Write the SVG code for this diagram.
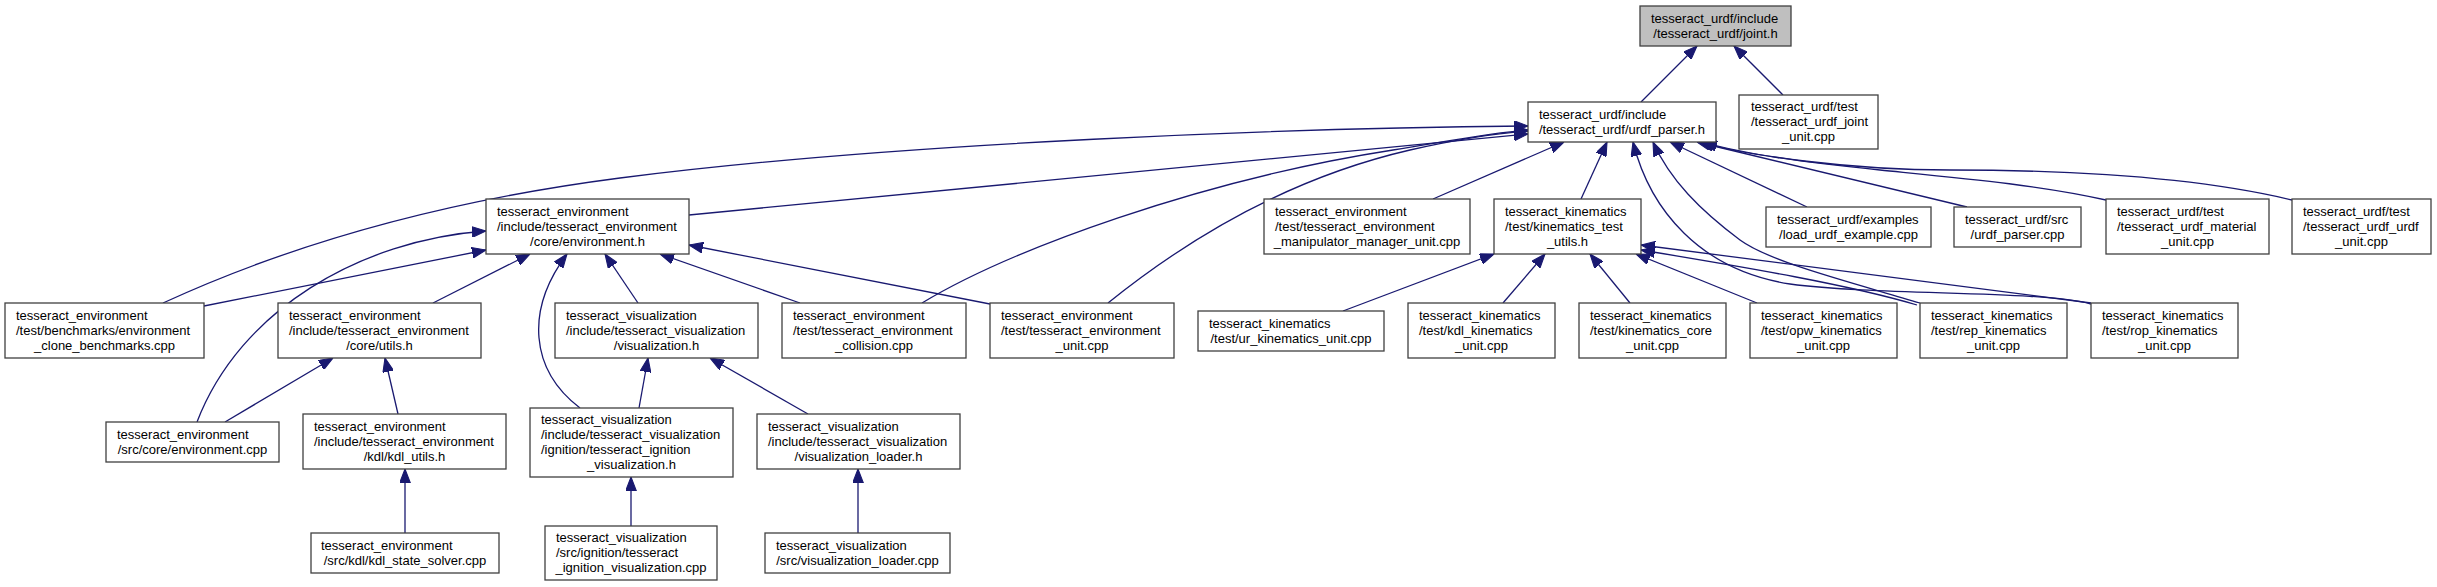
<svg xmlns="http://www.w3.org/2000/svg" width="2437" height="587" viewBox="0 0 2437 587">
<style>
.node rect{fill:#ffffff;stroke:#404040;stroke-width:1.3}
#joint_h rect{fill:#bfbfbf}
text{font-family:"Liberation Sans",Arial,Helvetica,sans-serif;font-size:13px;fill:#000000}
.c{text-anchor:middle}
.edge{fill:none;stroke:#191970;stroke-width:1.3;marker-end:url(#arr)}
</style>
<defs>
<marker id="arr" markerUnits="userSpaceOnUse" markerWidth="14" markerHeight="11" viewBox="0 0 13 10" refX="13" refY="5" orient="auto">
<path d="M0,0 L13,5 L0,10 z" fill="#191970" stroke="#191970" stroke-width="1"/>
</marker>
</defs>
<rect width="2437" height="587" fill="#ffffff"/>
<g id="edges">
<path class="edge" d="M1641,102 L1697,46"/>
<path class="edge" d="M1783,95 L1734,46"/>
<path class="edge" d="M689,215 L1528,134"/>
<path class="edge" d="M163,303 C300,240 450,200 620,178 C900,142 1300,128 1528,126"/>
<path class="edge" d="M922,303 C1010,250 1200,180 1393,150 C1450,141 1490,133 1528,130"/>
<path class="edge" d="M1108,303 C1180,245 1280,180 1410,150 C1450,141 1490,134 1528,131"/>
<path class="edge" d="M1433,199 L1564,142"/>
<path class="edge" d="M1581,199 L1607,142"/>
<path class="edge" d="M2091,304 C2040,290 1880,296 1790,284 C1700,270 1650,210 1633,142"/>
<path class="edge" d="M1920,303 C1850,282 1770,262 1740,240 C1700,210 1670,180 1653,142"/>
<path class="edge" d="M1807,207 L1670,142"/>
<path class="edge" d="M1967,207 L1697,142"/>
<path class="edge" d="M2106,200 C2040,185 1960,178 1880,170 C1800,162 1740,154 1700,142"/>
<path class="edge" d="M2292,200 C2200,178 2080,170 1950,170 C1850,170 1750,156 1703,142"/>
<path class="edge" d="M1343,311 L1494,254"/>
<path class="edge" d="M1503,303 L1545,254"/>
<path class="edge" d="M1630,303 L1590,254"/>
<path class="edge" d="M1757,303 L1636,254"/>
<path class="edge" d="M1917,305 C1850,285 1750,268 1641,250"/>
<path class="edge" d="M2091,303 L1641,245"/>
<path class="edge" d="M204,306 L486,250"/>
<path class="edge" d="M197,422 C240,310 360,240 486,231"/>
<path class="edge" d="M433,303 L530,254"/>
<path class="edge" d="M580,408 C530,370 525,310 567,254"/>
<path class="edge" d="M638,303 L605,254"/>
<path class="edge" d="M800,303 L660,254"/>
<path class="edge" d="M990,304 L689,245"/>
<path class="edge" d="M225,422 L333,358"/>
<path class="edge" d="M398,414 L385,358"/>
<path class="edge" d="M639,408 L648,358"/>
<path class="edge" d="M808,414 L710,358"/>
<path class="edge" d="M631,526 L631,477"/>
<path class="edge" d="M858,533 L858,469"/>
<path class="edge" d="M405,533 L405,469"/>
</g>
<g id="joint_h" class="node"><rect x="1640" y="6" width="151" height="40"/><text x="1651" y="22.5">tesseract_urdf/include</text><text class="c" x="1715.5" y="37.5">/tesseract_urdf/joint.h</text></g>
<g id="urdf_parser_h" class="node"><rect x="1528" y="102" width="188" height="40"/><text x="1539" y="118.5">tesseract_urdf/include</text><text class="c" x="1622" y="133.5">/tesseract_urdf/urdf_parser.h</text></g>
<g id="joint_unit" class="node"><rect x="1739" y="95" width="139" height="54"/><text x="1751" y="111">tesseract_urdf/test</text><text x="1751" y="126">/tesseract_urdf_joint</text><text class="c" x="1808.5" y="141">_unit.cpp</text></g>
<g id="environment_h" class="node"><rect x="486" y="199" width="203" height="55"/><text x="497" y="215.5">tesseract_environment</text><text x="497" y="230.5">/include/tesseract_environment</text><text class="c" x="587.5" y="245.5">/core/environment.h</text></g>
<g id="manipulator_manager_unit" class="node"><rect x="1264" y="199" width="206" height="55"/><text x="1275" y="215.5">tesseract_environment</text><text x="1275" y="230.5">/test/tesseract_environment</text><text class="c" x="1367" y="245.5">_manipulator_manager_unit.cpp</text></g>
<g id="kinematics_test_utils" class="node"><rect x="1494" y="199" width="147" height="55"/><text x="1505" y="215.5">tesseract_kinematics</text><text x="1505" y="230.5">/test/kinematics_test</text><text class="c" x="1567.5" y="245.5">_utils.h</text></g>
<g id="load_urdf_example" class="node"><rect x="1766" y="207" width="165" height="40"/><text x="1777" y="223.5">tesseract_urdf/examples</text><text class="c" x="1848.5" y="238.5">/load_urdf_example.cpp</text></g>
<g id="src_urdf_parser" class="node"><rect x="1954" y="207" width="127" height="40"/><text x="1965" y="223.5">tesseract_urdf/src</text><text class="c" x="2017.5" y="238.5">/urdf_parser.cpp</text></g>
<g id="urdf_material_unit" class="node"><rect x="2106" y="199" width="163" height="55"/><text x="2117" y="215.5">tesseract_urdf/test</text><text x="2117" y="230.5">/tesseract_urdf_material</text><text class="c" x="2187.5" y="245.5">_unit.cpp</text></g>
<g id="urdf_urdf_unit" class="node"><rect x="2292" y="199" width="139" height="55"/><text x="2303" y="215.5">tesseract_urdf/test</text><text x="2303" y="230.5">/tesseract_urdf_urdf</text><text class="c" x="2361.5" y="245.5">_unit.cpp</text></g>
<g id="clone_benchmarks" class="node"><rect x="5" y="303" width="199" height="55"/><text x="16" y="319.5">tesseract_environment</text><text x="16" y="334.5">/test/benchmarks/environment</text><text class="c" x="104.5" y="349.5">_clone_benchmarks.cpp</text></g>
<g id="core_utils_h" class="node"><rect x="278" y="303" width="203" height="55"/><text x="289" y="319.5">tesseract_environment</text><text x="289" y="334.5">/include/tesseract_environment</text><text class="c" x="379.5" y="349.5">/core/utils.h</text></g>
<g id="visualization_h" class="node"><rect x="555" y="303" width="203" height="55"/><text x="566" y="319.5">tesseract_visualization</text><text x="566" y="334.5">/include/tesseract_visualization</text><text class="c" x="656.5" y="349.5">/visualization.h</text></g>
<g id="environment_collision" class="node"><rect x="782" y="303" width="184" height="55"/><text x="793" y="319.5">tesseract_environment</text><text x="793" y="334.5">/test/tesseract_environment</text><text class="c" x="874" y="349.5">_collision.cpp</text></g>
<g id="environment_unit" class="node"><rect x="990" y="303" width="184" height="55"/><text x="1001" y="319.5">tesseract_environment</text><text x="1001" y="334.5">/test/tesseract_environment</text><text class="c" x="1082" y="349.5">_unit.cpp</text></g>
<g id="ur_kinematics_unit" class="node"><rect x="1198" y="311" width="186" height="40"/><text x="1209" y="327.5">tesseract_kinematics</text><text class="c" x="1291" y="342.5">/test/ur_kinematics_unit.cpp</text></g>
<g id="kdl_kinematics_unit" class="node"><rect x="1408" y="303" width="147" height="55"/><text x="1419" y="319.5">tesseract_kinematics</text><text x="1419" y="334.5">/test/kdl_kinematics</text><text class="c" x="1481.5" y="349.5">_unit.cpp</text></g>
<g id="kinematics_core_unit" class="node"><rect x="1579" y="303" width="147" height="55"/><text x="1590" y="319.5">tesseract_kinematics</text><text x="1590" y="334.5">/test/kinematics_core</text><text class="c" x="1652.5" y="349.5">_unit.cpp</text></g>
<g id="opw_kinematics_unit" class="node"><rect x="1750" y="303" width="147" height="55"/><text x="1761" y="319.5">tesseract_kinematics</text><text x="1761" y="334.5">/test/opw_kinematics</text><text class="c" x="1823.5" y="349.5">_unit.cpp</text></g>
<g id="rep_kinematics_unit" class="node"><rect x="1920" y="303" width="147" height="55"/><text x="1931" y="319.5">tesseract_kinematics</text><text x="1931" y="334.5">/test/rep_kinematics</text><text class="c" x="1993.5" y="349.5">_unit.cpp</text></g>
<g id="rop_kinematics_unit" class="node"><rect x="2091" y="303" width="147" height="55"/><text x="2102" y="319.5">tesseract_kinematics</text><text x="2102" y="334.5">/test/rop_kinematics</text><text class="c" x="2164.5" y="349.5">_unit.cpp</text></g>
<g id="src_core_environment" class="node"><rect x="106" y="422" width="173" height="40"/><text x="117" y="438.5">tesseract_environment</text><text class="c" x="192.5" y="453.5">/src/core/environment.cpp</text></g>
<g id="kdl_utils_h" class="node"><rect x="303" y="414" width="203" height="55"/><text x="314" y="430.5">tesseract_environment</text><text x="314" y="445.5">/include/tesseract_environment</text><text class="c" x="404.5" y="460.5">/kdl/kdl_utils.h</text></g>
<g id="ignition_visualization_h" class="node"><rect x="530" y="408" width="203" height="69"/><text x="541" y="424">tesseract_visualization</text><text x="541" y="439">/include/tesseract_visualization</text><text x="541" y="454">/ignition/tesseract_ignition</text><text class="c" x="631.5" y="469">_visualization.h</text></g>
<g id="visualization_loader_h" class="node"><rect x="757" y="414" width="203" height="55"/><text x="768" y="430.5">tesseract_visualization</text><text x="768" y="445.5">/include/tesseract_visualization</text><text class="c" x="858.5" y="460.5">/visualization_loader.h</text></g>
<g id="kdl_state_solver" class="node"><rect x="311" y="533" width="188" height="40"/><text x="321" y="549.5">tesseract_environment</text><text class="c" x="405" y="564.5">/src/kdl/kdl_state_solver.cpp</text></g>
<g id="ignition_visualization_cpp" class="node"><rect x="545" y="526" width="172" height="54"/><text x="556" y="542">tesseract_visualization</text><text x="556" y="557">/src/ignition/tesseract</text><text class="c" x="631" y="572">_ignition_visualization.cpp</text></g>
<g id="visualization_loader_cpp" class="node"><rect x="765" y="533" width="185" height="40"/><text x="776" y="549.5">tesseract_visualization</text><text class="c" x="857.5" y="564.5">/src/visualization_loader.cpp</text></g>
</svg>
